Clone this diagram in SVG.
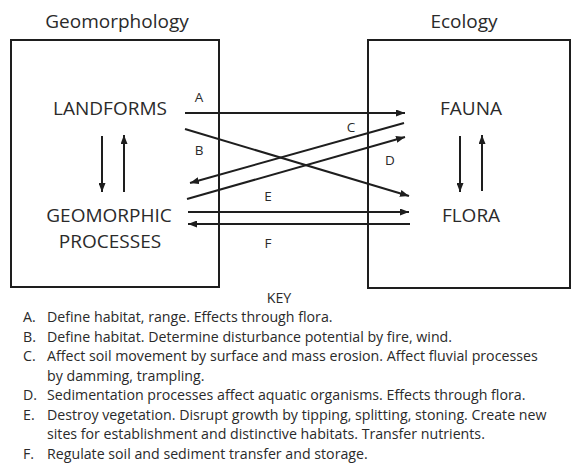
<svg xmlns="http://www.w3.org/2000/svg" width="572" height="466" viewBox="0 0 572 466">
<style>
  .box { fill: none; stroke: #1e1e1e; stroke-width: 2; }
  .ln { fill: none; stroke: #1e1e1e; stroke-width: 2; marker-end: url(#ah); }
  .t { font-family: "Open Sans", "Liberation Sans", sans-serif; fill: #2a2a2a; }
  .title { font-size: 19px; text-anchor: middle; }
  .node { font-size: 19px; text-anchor: middle; }
  .lbl { font-size: 13.5px; text-anchor: middle; }
  .key { font-size: 14.2px; }
</style>
<defs>
  <marker id="ah" viewBox="0 0 9 7" refX="9" refY="3.5" markerWidth="9" markerHeight="7" markerUnits="userSpaceOnUse" orient="auto">
    <path d="M0,0 L9,3.5 L0,7 Z" fill="#1e1e1e"/>
  </marker>
</defs>
<rect width="572" height="466" fill="#ffffff"/>

<g id="geomorphology">
  <rect class="box" x="11" y="40" width="208" height="247"/>
  <text class="t title" x="117" y="28">Geomorphology</text>
</g>
<g id="ecology">
  <rect class="box" x="368" y="40" width="202" height="248"/>
  <text class="t title" x="464" y="28">Ecology</text>
</g>
<g id="landforms">
  <text class="t node" x="110" y="115">LANDFORMS</text>
</g>
<g id="geomorphic-processes">
  <text class="t node" x="109" y="222">GEOMORPHIC</text>
  <text class="t node" x="110" y="248">PROCESSES</text>
</g>
<g id="fauna">
  <text class="t node" x="471" y="115">FAUNA</text>
</g>
<g id="flora">
  <text class="t node" x="471" y="222">FLORA</text>
</g>

<g id="connectors">
  <line class="ln" x1="185" y1="113" x2="405" y2="113"/>
  <line class="ln" x1="185" y1="129" x2="409" y2="196"/>
  <line class="ln" x1="404" y1="123" x2="190" y2="183"/>
  <line class="ln" x1="187" y1="199" x2="405" y2="137"/>
  <line class="ln" x1="188" y1="212" x2="409" y2="212"/>
  <line class="ln" x1="410" y1="224" x2="188" y2="224"/>
  <line class="ln" x1="102" y1="136" x2="102" y2="192"/>
  <line class="ln" x1="124" y1="192" x2="124" y2="135"/>
  <line class="ln" x1="460" y1="136" x2="460" y2="192"/>
  <line class="ln" x1="482" y1="191" x2="482" y2="135"/>
  <text class="t lbl" x="199" y="102">A</text>
  <text class="t lbl" x="199" y="155">B</text>
  <text class="t lbl" x="351" y="132">C</text>
  <text class="t lbl" x="390" y="165">D</text>
  <text class="t lbl" x="268" y="201">E</text>
  <text class="t lbl" x="268" y="248">F</text>
</g>

<g id="key">
  <text class="t key" x="279" y="303" text-anchor="middle">KEY</text>
  <text class="t key" x="23" y="322">A.</text>
  <text class="t key" x="47" y="322">Define habitat, range. Effects through flora.</text>
  <text class="t key" x="23" y="341.5">B.</text>
  <text class="t key" x="47" y="341.5">Define habitat. Determine disturbance potential by fire, wind.</text>
  <text class="t key" x="23" y="361">C.</text>
  <text class="t key" x="47" y="361">Affect soil movement by surface and mass erosion. Affect fluvial processes</text>
  <text class="t key" x="47" y="380.5">by damming, trampling.</text>
  <text class="t key" x="23" y="400">D.</text>
  <text class="t key" x="47" y="400">Sedimentation processes affect aquatic organisms. Effects through flora.</text>
  <text class="t key" x="23" y="419.5">E.</text>
  <text class="t key" x="47" y="419.5">Destroy vegetation. Disrupt growth by tipping, splitting, stoning. Create new</text>
  <text class="t key" x="47" y="439">sites for establishment and distinctive habitats. Transfer nutrients.</text>
  <text class="t key" x="23" y="458.5">F.</text>
  <text class="t key" x="47" y="458.5">Regulate soil and sediment transfer and storage.</text>
</g>
</svg>
